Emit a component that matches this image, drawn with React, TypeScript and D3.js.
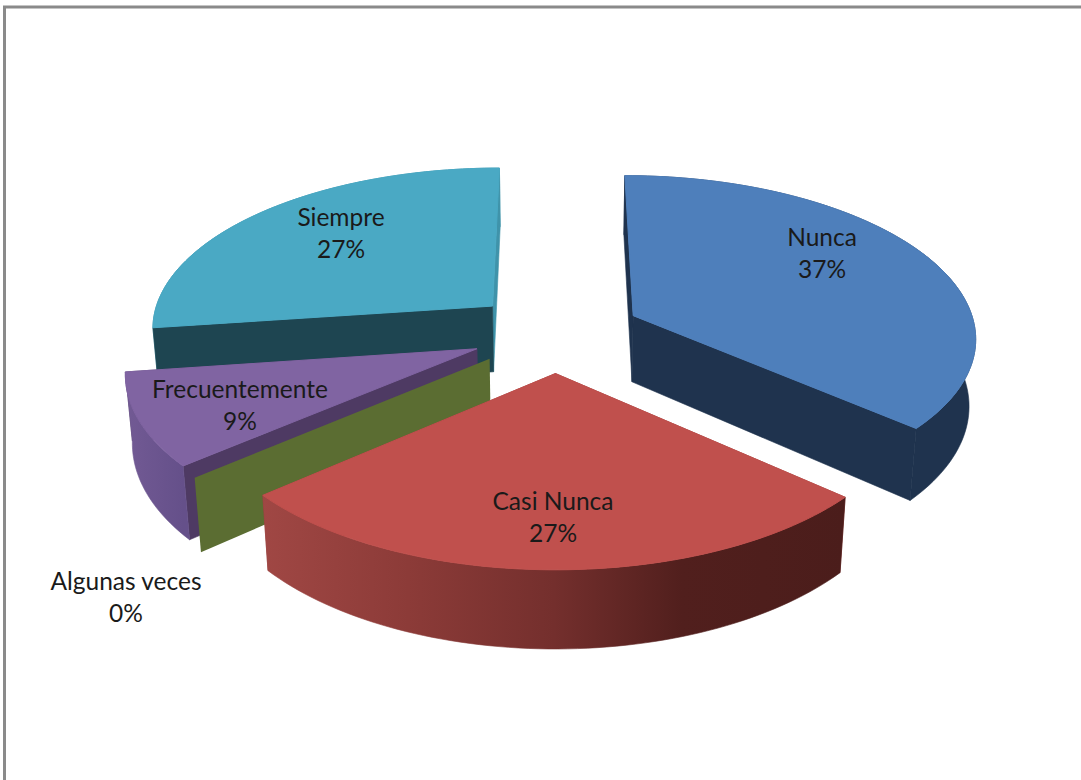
import React from "react";
import * as d3 from "d3";

// Survey answers and their share of responses
const categories = ["Nunca", "Casi Nunca", "Algunas veces", "Frecuentemente", "Siempre"];
const shares = [36.5, 27.2, 0, 9.1, 27.2];

const topColors = ["#4e7fbb", "#c0504d", "#9bbb59", "#8064a2", "#4aa9c4"];
const sideColors = ["#1f334e", "#8f3b38", "#5b6d32", "#4e3a63", "#1e4551"];
const endWallColors = ["#1f334e", "#8f3b38", "#5b6d32", "#4e3a63", "#3f93aa"];
const paintOrder = [4, 0, 3, 2, 1];

const labelAnchors: [number, number][] = [
  [822, 237],
  [553, 501],
  [126, 581],
  [240, 389],
  [341, 217],
];

const WIDTH = 1081;
const HEIGHT = 780;
const CX = 556;
const CY = 332;
const RX = 343;
const RY = 161;
const DEPTH = 67;
const PERSPECTIVE = 0.123;
const DEPTH_SHRINK = 0.016;
const EXPLODE = 0.25;
const BACK_SLICE = 4;

// Maps a point of the pie's disc (u right, v away from the viewer) to the page; z = 1 is the underside.
const project = (u: number, v: number, z: number): [number, number] => {
  const w = 1 + PERSPECTIVE * v;
  return [CX + (RX * u) / (w + DEPTH_SHRINK * z), CY + (-RY * v + DEPTH * z) / w];
};

const line = d3.line<[number, number]>();

const arcs = d3
  .pie<number>()
  .sort(null)
  .startAngle(0)
  .endAngle(2 * Math.PI)(shares);

const slices = arcs.map((a) => {
  const mid = (a.startAngle + a.endAngle) / 2;
  const ou = EXPLODE * Math.sin(mid);
  const ov = EXPLODE * Math.cos(mid);
  const rim = (angle: number, z: number) => project(ou + Math.sin(angle), ov + Math.cos(angle), z);
  const apex = (z: number) => project(ou, ov, z);
  const n = Math.max(2, Math.ceil((a.endAngle - a.startAngle) * 40));
  const angles = d3.range(n + 1).map((i) => a.startAngle + ((a.endAngle - a.startAngle) * i) / n);
  const top = angles.map((t) => rim(t, 0));
  const under = angles.map((t) => rim(t, 1));
  return {
    top,
    start: a.startAngle,
    end: a.endAngle,
    topPath: line([apex(0), ...top]) + "Z",
    outerPath: line([...top, ...under.slice().reverse()]) + "Z",
    startWall: line([apex(0), rim(a.startAngle, 0), rim(a.startAngle, 1), apex(1)]) + "Z",
    endWall: line([apex(0), rim(a.endAngle, 0), rim(a.endAngle, 1), apex(1)]) + "Z",
  };
});

const redStops: [number, string][] = [
  [0, "#a04744"],
  [0.25, "#8c3b38"],
  [0.5, "#742f2d"],
  [0.72, "#511f1d"],
  [1, "#4b1d1b"],
];
const purpleStops: [number, string][] = [
  [0, "#725a94"],
  [1, "#65508a"],
];

const xRange = (pts: [number, number][]) => d3.extent(pts, (p) => p[0]) as [number, number];

export default function App() {
  const [redLo, redHi] = xRange(slices[1].top);
  const [purpleLo, purpleHi] = xRange(slices[3].top);
  const outerFill = (i: number) =>
    i === 1
      ? "url(#redWall)"
      : i === 3
        ? "url(#purpleWall)"
        : i === BACK_SLICE
          ? endWallColors[i]
          : sideColors[i];

  const wall = (d: string, fill: string) => <path d={d} fill={fill} stroke={fill} strokeWidth={0.6} />;

  return (
    <svg
      width={WIDTH}
      height={HEIGHT}
      viewBox={`0 0 ${WIDTH} ${HEIGHT}`}
      style={{ position: "absolute", left: 0, top: 0, background: "#fff" }}
    >
      <defs>
        <linearGradient id="redWall" gradientUnits="userSpaceOnUse" x1={redLo} x2={redHi} y1={0} y2={0}>
          {redStops.map(([o, c]) => (
            <stop key={o} offset={o} stopColor={c} />
          ))}
        </linearGradient>
        <linearGradient id="purpleWall" gradientUnits="userSpaceOnUse" x1={purpleLo} x2={purpleHi} y1={0} y2={0}>
          {purpleStops.map(([o, c]) => (
            <stop key={o} offset={o} stopColor={c} />
          ))}
        </linearGradient>
      </defs>

      {/* Chart frame: only its top and left edges fall inside the page */}
      <path d={`M4.5 ${HEIGHT}V7H${WIDTH}`} fill="none" stroke="#8a8a8a" strokeWidth={3} />

      {paintOrder.map((i) => {
        const s = slices[i];
        const isZero = s.end - s.start < 1e-6;
        if (isZero) {
          return <path key={categories[i]} d={s.startWall} fill={sideColors[i]} />;
        }
        // The rearmost slice shows its dark cut face over the lighter rim.
        const backSlice = i === BACK_SLICE;
        return (
          <g key={categories[i]}>
            {backSlice && wall(s.outerPath, outerFill(i))}
            {wall(s.endWall, endWallColors[i])}
            {wall(s.startWall, sideColors[i])}
            {!backSlice && wall(s.outerPath, outerFill(i))}
            <path d={s.topPath} fill={topColors[i]} stroke={topColors[i]} strokeWidth={1} />
          </g>
        );
      })}

      <g fontFamily="Lato, 'Open Sans', sans-serif" fontSize={24.5} fill="#1a1a1a" textAnchor="middle">
        {categories.map((name, i) => (
          <text key={name} x={labelAnchors[i][0]} y={labelAnchors[i][1]}>
            <tspan x={labelAnchors[i][0]} dy="0.35em">
              {name}
            </tspan>
            <tspan x={labelAnchors[i][0]} dy={32}>
              {Math.round(shares[i])}%
            </tspan>
          </text>
        ))}
      </g>
    </svg>
  );
}
